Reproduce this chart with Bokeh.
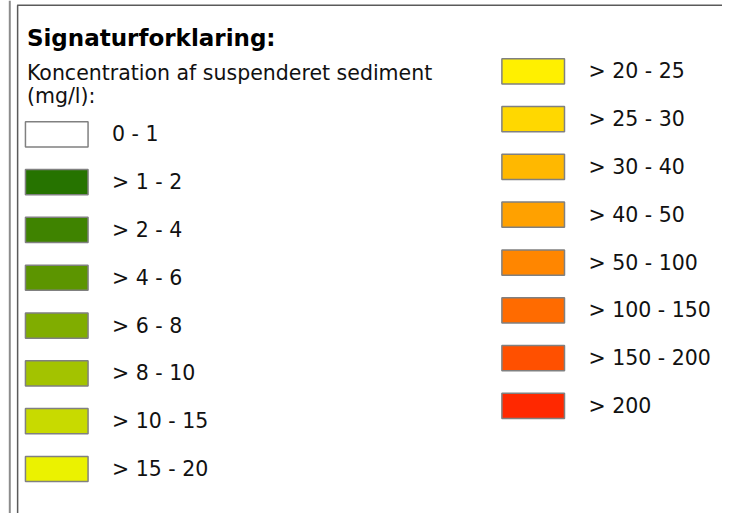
from bokeh.plotting import figure
from bokeh.embed import file_html
from bokeh.resources import INLINE
from bokeh.models import ColumnDataSource
from bokeh.core.properties import value

title = "Signaturforklaring:"
subtitle = ["Koncentration af suspenderet sediment", "(mg/l):"]
labels = ["0 - 1", "> 1 - 2", "> 2 - 4", "> 4 - 6", "> 6 - 8", "> 8 - 10", "> 10 - 15", "> 15 - 20",
          "> 20 - 25", "> 25 - 30", "> 30 - 40", "> 40 - 50", "> 50 - 100", "> 100 - 150", "> 150 - 200", "> 200"]
colors = ["#ffffff", "#267300", "#3f8300", "#5c9500", "#80ad00", "#a3c300", "#c8da00", "#ebf200",
          "#fff000", "#ffd800", "#ffb800", "#ffa100", "#ff8600", "#ff6b00", "#ff5000", "#ff2800"]

W, H = 722, 513
RW, RH = 738, 529  # reference layout coordinate system
FONT = "DejaVu Sans"

p = figure(width=W, height=H, x_range=(0, RW), y_range=(RH, 0),
           output_backend="svg", toolbar_location=None, min_border=0)
p.axis.visible = False
p.grid.visible = False
p.outline_line_color = None
p.background_fill_color = "white"
p.border_fill_color = "white"

# frame lines
p.segment(x0=[9.5], y0=[0], x1=[9.5], y1=[RH], line_color="#8c8c8c", line_width=2)
p.segment(x0=[17.5, 17], y0=[5, 5], x1=[17.5, RW], y1=[RH, 5], line_color="#5a5a5a", line_width=1.5)

# title & subtitle
p.text(x=[27], y=[39], text=[title], text_font=value(FONT), text_font_style="bold",
       text_font_size="23px", text_baseline="middle", text_color="#000000")
p.text(x=[27, 27], y=[75, 98], text=subtitle, text_font=value(FONT),
       text_font_size="20.5px", text_baseline="middle", text_color="#111111")

# legend items
n_left = 8
step = 49.3
xs, ys, cx = [], [], []
for i in range(len(labels)):
    if i < n_left:
        x0, yc = 25, 138 + step * i
    else:
        x0, yc = 512, 73 + step * (i - n_left)
    xs.append(x0)
    ys.append(yc)
    cx.append(x0 + 32.5)

src = ColumnDataSource(dict(cx=cx, cy=ys, tx=[x + 89 for x in xs], color=colors, label=labels))
p.rect(x="cx", y="cy", width=64, height=26, source=src, fill_color="color",
       line_color="#808080", line_width=1.5)
p.text(x="tx", y="cy", text="label", source=src, text_font=value(FONT),
       text_font_size="20.5px", text_baseline="middle", text_color="#111111")

open("out.html", "w").write(file_html(p, INLINE))
